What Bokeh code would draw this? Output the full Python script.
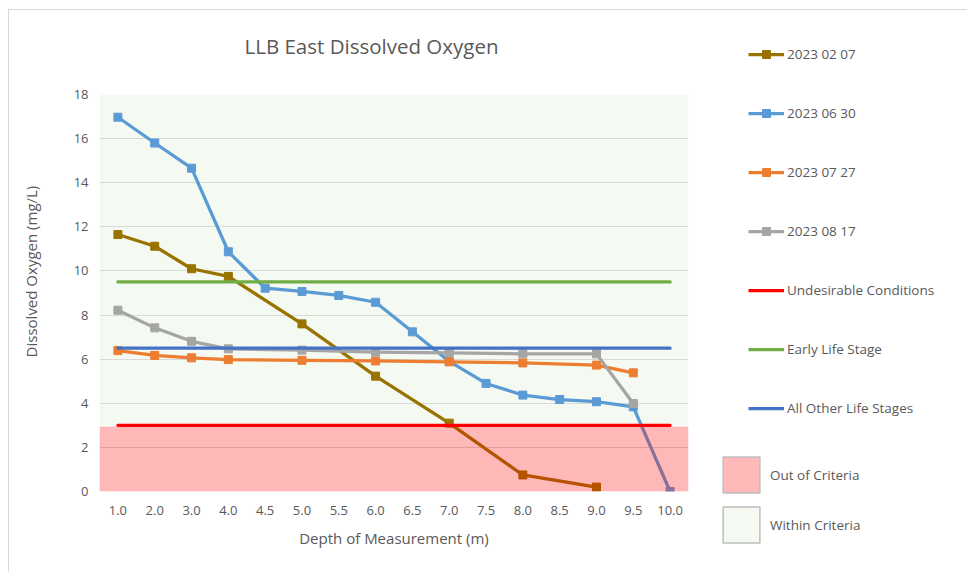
from bokeh.plotting import figure
from bokeh.layouts import row
from bokeh.models import (FactorRange, Range1d, FixedTicker, Legend, LegendItem,
                          BoxAnnotation, Title)
from bokeh.embed import file_html
from bokeh.resources import INLINE

# ---- data ----
depths = ["1.0", "2.0", "3.0", "4.0", "4.5", "5.0", "5.5", "6.0", "6.5",
          "7.0", "7.5", "8.0", "8.5", "9.0", "9.5", "10.0"]

feb_depths = ["1.0", "2.0", "3.0", "4.0", "5.0", "6.0", "7.0", "8.0", "9.0"]
feb_do = [11.65, 11.12, 10.1, 9.75, 7.6, 5.23, 3.1, 0.75, 0.2]

jun_depths = ["1.0", "2.0", "3.0", "4.0", "4.5", "5.0", "5.5", "6.0", "6.5",
              "7.0", "7.5", "8.0", "8.5", "9.0", "9.5", "10.0"]
jun_do = [16.97, 15.8, 14.66, 10.87, 9.22, 9.07, 8.89, 8.58, 7.24,
          5.9, 4.9, 4.37, 4.17, 4.07, 3.84, 0.0]

jul_depths = ["1.0", "2.0", "3.0", "4.0", "5.0", "6.0", "7.0", "8.0", "9.0", "9.5"]
jul_do = [6.39, 6.17, 6.06, 5.98, 5.95, 5.92, 5.88, 5.83, 5.73, 5.38]

aug_depths = ["1.0", "2.0", "3.0", "4.0", "5.0", "6.0", "7.0", "8.0", "9.0", "9.5"]
aug_do = [8.22, 7.42, 6.81, 6.47, 6.41, 6.32, 6.29, 6.24, 6.24, 3.99]

undesirable = [3.0, 3.0, 3.0, 3.0, 3.0, 3.0, 3.0, 3.0, 3.0, 3.0, 3.0, 3.0, 3.0, 3.0, 3.0, 3.0]
early_life = [9.5, 9.5, 9.5, 9.5, 9.5, 9.5, 9.5, 9.5, 9.5, 9.5, 9.5, 9.5, 9.5, 9.5, 9.5, 9.5]
other_life = [6.5, 6.5, 6.5, 6.5, 6.5, 6.5, 6.5, 6.5, 6.5, 6.5, 6.5, 6.5, 6.5, 6.5, 6.5, 6.5]

out_of_criteria = (0.0, 2.95)
within_criteria = (3.0, 18.0)
y_ticks = [0, 2, 4, 6, 8, 10, 12, 14, 16, 18]

FONT = "Open Sans"
TXT = "#595959"
PINK_SWATCH = "#FFB9B9"
GREEN_FILL = "#F4F9F1"
H = 562

p = figure(width=700, height=H, output_backend="svg", toolbar_location=None,
           x_range=FactorRange(*depths, range_padding=0), y_range=Range1d(0, 18),
           min_border_left=90, min_border_right=21, min_border_top=84, min_border_bottom=81)
p.frame_align = False
p.outline_line_color = None
p.background_fill_color = "white"

# spacer panel (nearest the frame) so the title sits higher, then the title itself
p.add_layout(Title(text=" ", text_font_size="10px", standoff=20), "above")
p.add_layout(Title(text="LLB East Dissolved Oxygen", text_font=FONT,
                   text_font_size="20.5px", text_font_style="normal", text_color=TXT,
                   align="left", offset=145, standoff=4), "above")

green = BoxAnnotation(bottom=within_criteria[0], top=within_criteria[1],
                      fill_color=GREEN_FILL, fill_alpha=1, line_color=None, level="image")
p.add_layout(green)

p.xgrid.grid_line_color = None
p.ygrid.grid_line_color = "#D9D9D9"
p.ygrid.grid_line_width = 1
p.yaxis.ticker = FixedTicker(ticks=y_ticks)
for ax in (p.xaxis[0], p.yaxis[0]):
    ax.axis_line_color = None
    ax.major_tick_line_color = None
    ax.minor_tick_line_color = None
    ax.major_label_text_font = FONT
    ax.major_label_text_font_size = "13px"
    ax.major_label_text_color = TXT
    ax.axis_label_text_font = FONT
    ax.axis_label_text_font_size = "15px"
    ax.axis_label_text_font_style = "normal"
    ax.axis_label_text_color = TXT
p.xaxis.axis_label = "Depth of Measurement (m)"
# leading no-break spaces nudge the rotated title upward, as in the original
p.yaxis.axis_label = "\u00a0" * 11 + "Dissolved Oxygen (mg/L)"
p.xaxis.major_label_standoff = 8
p.xaxis.axis_label_standoff = 10
p.yaxis.major_label_standoff = 5
p.yaxis.axis_label_standoff = 30

LW = 3.25
MS = 8
series = [
    ("2023 02 07", feb_depths, feb_do, "#997300"),
    ("2023 06 30", jun_depths, jun_do, "#5B9BD5"),
    ("2023 07 27", jul_depths, jul_do, "#ED7D31"),
    ("2023 08 17", aug_depths, aug_do, "#A5A5A5"),
]
thresholds = [("Undesirable Conditions", undesirable, "#FF0000"),
              ("Early Life Stage", early_life, "#70AD47"),
              ("All Other Life Stages", other_life, "#4472C4")]

for name, xs, ys, col in series:
    p.line(xs, ys, line_color=col, line_width=LW, line_join="round")
    p.scatter(xs, ys, marker="square", size=MS, fill_color=col, line_color=col)

for name, ys, col in thresholds:
    p.line(depths, ys, line_color=col, line_width=LW, line_cap="round")

pink = BoxAnnotation(bottom=out_of_criteria[0], top=out_of_criteria[1],
                     fill_color="#FF0000", fill_alpha=0.28, line_color=None)
p.add_layout(pink)

# ---- legend panel (same data, kept outside its visible y range) ----
lf = figure(width=258, height=H, output_backend="svg", toolbar_location=None,
            x_range=FactorRange(*depths, range_padding=0), y_range=Range1d(100, 101),
            x_axis_location=None, y_axis_location=None, min_border=0)
lf.frame_align = False
lf.grid.visible = False
lf.outline_line_color = None

items = []
for name, xs, ys, col in series:
    lr = lf.line(xs, ys, line_color=col, line_width=LW)
    sr = lf.scatter(xs, ys, marker="square", size=MS, fill_color=col, line_color=col)
    items.append(LegendItem(label=name, renderers=[lr, sr]))
for name, ys, col in thresholds:
    lr = lf.line(depths, ys, line_color=col, line_width=LW)
    items.append(LegendItem(label=name, renderers=[lr]))

qp = lf.quad(left=[depths[0]], right=[depths[-1]], bottom=[out_of_criteria[0]],
             top=[out_of_criteria[1]], fill_color=PINK_SWATCH,
             line_color="#BFBFBF", line_width=1.5)
qg = lf.quad(left=[depths[0]], right=[depths[-1]], bottom=[within_criteria[0]],
             top=[within_criteria[1]], fill_color=GREEN_FILL,
             line_color="#BFBFBF", line_width=1.5)

leg1 = Legend(items=items, location=(39, 154), orientation="vertical",
              glyph_width=36, glyph_height=20, label_height=20, spacing=39,
              label_standoff=3, padding=0, margin=0,
              border_line_color=None, background_fill_alpha=0,
              label_text_font=FONT, label_text_font_size="13.5px", label_text_color=TXT)
leg2 = Legend(items=[LegendItem(label="Out of Criteria", renderers=[qp]),
                     LegendItem(label="Within Criteria", renderers=[qg])],
              location=(9, 25), orientation="vertical",
              glyph_width=46, glyph_height=45, label_height=45, spacing=5,
              label_standoff=6, padding=0, margin=0,
              border_line_color=None, background_fill_alpha=0,
              label_text_font=FONT, label_text_font_size="13.5px", label_text_color=TXT)
lf.add_layout(leg1)
lf.add_layout(leg2)

layout = row(p, lf)
layout.styles = {"margin-left": "8px", "margin-top": "9px",
                 "border-left": "1px solid #D9D9D9", "border-top": "1px solid #D9D9D9"}

open("out.html", "w").write(file_html(layout, INLINE))
